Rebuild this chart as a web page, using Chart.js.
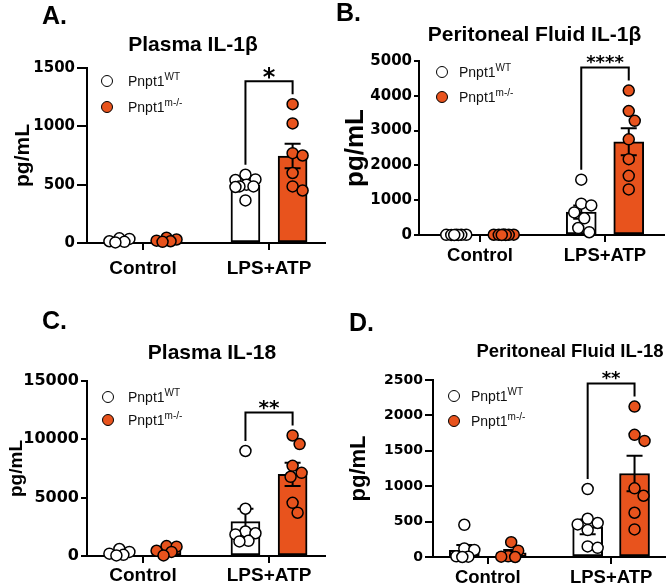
<!DOCTYPE html>
<html>
<head>
<meta charset="utf-8">
<script src="https://cdn.jsdelivr.net/npm/chart.js@4.4.1/dist/chart.umd.min.js"></script>
<style>
  body { margin: 0; background: #fff; }
  #fig { position: relative; width: 672px; height: 585px; overflow: hidden; font-family: "Liberation Sans", Arial, sans-serif; color: #000; }
  #fig canvas { position: absolute; }
  .ttl { position: absolute; font-weight: bold; white-space: nowrap; line-height: 1; transform: translate(-50%, -50%); }
  .letter { position: absolute; font-weight: bold; font-size: 25px; line-height: 1; transform: translateY(-50%); }
  .leg { position: absolute; font-size: 14px; line-height: 1; white-space: nowrap; transform: translateY(-50%); color: #111; }
  .leg sup { font-size: 10px; vertical-align: baseline; position: relative; top: -6px; }
  .dot { position: absolute; width: 10px; height: 10px; border: 1.5px solid #000; border-radius: 50%; transform: translate(-50%, -50%); }
</style>
</head>
<body>
<div id="fig">
  <canvas id="cA" width="336" height="290" style="left:0;top:0"></canvas>
  <canvas id="cB" width="336" height="290" style="left:336px;top:0"></canvas>
  <canvas id="cC" width="336" height="295" style="left:0;top:290px"></canvas>
  <canvas id="cD" width="336" height="295" style="left:336px;top:290px"></canvas>
</div>
<script>
const categories = ['Control', 'LPS+ATP'];
const legendName = 'Pnpt1';
const legendSup = ['WT', 'm-/-'];

// A. Plasma IL-1β
const aTicks = [0, 500, 1000, 1500];
const aWtControl = [40, 35, 15, 10, 5];
const aWtLps = [585, 545, 540, 500, 485, 485, 480, 365];
const aKoControl = [45, 30, 20, 15, 10];
const aKoLps = [1190, 1025, 770, 750, 600, 485, 450];
const aWtMean = [21, 498];
const aWtSem = [7, 23];
const aKoMean = [24, 745];
const aKoSem = [6, 105];

// B. Peritoneal fluid IL-1β
const bTicks = [0, 1000, 2000, 3000, 4000, 5000];
const bWtControl = [8, 6, 5, 4, 3, 2, 1];
const bWtLps = [1590, 900, 850, 650, 480, 200, 80];
const bKoControl = [12, 9, 7, 5, 4, 3, 2];
const bKoLps = [4150, 3560, 3280, 2750, 2180, 1700, 1310];
const bWtMean = [4, 660];
const bWtSem = [1, 190];
const bKoMean = [6, 2680];
const bKoSem = [1, 390];

// C. Plasma IL-18
const cTicks = [0, 5000, 10000, 15000];
const cWtControl = [600, 350, 200, 100, 50];
const cWtLps = [9000, 4050, 2100, 1950, 1850, 1300, 1250];
const cKoControl = [850, 800, 450, 350, 50];
const cKoLps = [10330, 9590, 7730, 7130, 6790, 4560, 3710];
const cWtMean = [260, 2950];
const cWtSem = [100, 1100];
const cKoMean = [500, 7000];
const cKoSem = [150, 1000];

// D. Peritoneal fluid IL-18
const dTicks = [0, 500, 1000, 1500, 2000, 2500];
const dWtControl = [455, 120, 100, 10, 5, 0];
const dWtLps = [960, 540, 480, 460, 380, 150, 130];
const dKoControl = [210, 90, 10, 5, 0];
const dKoLps = [2125, 1725, 1640, 970, 865, 625, 390];
const dWtMean = [95, 425];
const dWtSem = [75, 105];
const dKoMean = [60, 1180];
const dKoSem = [40, 250];

const ORANGE = '#E8531D';
const MIN_D = 11;   // px between dot centres
const SPREAD = 10;  // max px sideways

// spread overlapping dots sideways (simple beeswarm)
const swarmPlugin = {
  id: 'swarm',
  afterDatasetsUpdate(chart) {
    chart.data.datasets.forEach((ds, di) => {
      if (ds.type !== 'scatter') return;
      const meta = chart.getDatasetMeta(di);
      const byGroup = {};
      meta.data.forEach((el, i) => {
        const g = ds.data[i].g;
        (byGroup[g] = byGroup[g] || []).push(el);
      });
      Object.values(byGroup).forEach(els => {
        const placed = [];
        els.forEach(el => {
          let best = 0, bestD = -1;
          for (let k = 0; k <= 2 * SPREAD; k++) {
            const off = k === 0 ? 0 : (k % 2 ? (k + 1) / 2 : -k / 2);
            let d = Infinity;
            placed.forEach(p => { d = Math.min(d, Math.hypot(el.x + off - p.x, el.y - p.y)); });
            if (d >= MIN_D) { best = off; bestD = d; break; }
            if (d > bestD + 0.01) { best = off; bestD = d; }
          }
          el.x += best;
          placed.push({ x: el.x, y: el.y });
        });
      });
    });
  }
};

const errorPlugin = {
  id: 'errbars',
  afterDatasetDraw(chart, args) {
    const ds = chart.data.datasets[args.index];
    if (!ds.sem) return;
    const y = chart.scales.y, ctx = chart.ctx;
    ctx.save();
    ctx.strokeStyle = '#000';
    ctx.lineWidth = 2;
    args.meta.data.forEach((el, i) => {
      const m = ds.data[i].y, s = ds.sem[i];
      const top = y.getPixelForValue(m + s);
      const bot = y.getPixelForValue(Math.max(0, m - s));
      ctx.beginPath();
      ctx.moveTo(el.x, bot); ctx.lineTo(el.x, top);
      ctx.moveTo(el.x - 8, top); ctx.lineTo(el.x + 8, top);
      ctx.moveTo(el.x - 8, bot); ctx.lineTo(el.x + 8, bot);
      ctx.stroke();
    });
    ctx.restore();
  }
};

const bracketPlugin = {
  id: 'bracket',
  afterDatasetsDraw(chart, args, opts) {
    const ctx = chart.ctx;
    const topOf = di => {
      const ds = chart.data.datasets[di];
      let m = Infinity;
      chart.getDatasetMeta(di).data.forEach((el, i) => { if (ds.data[i].g === 1) m = Math.min(m, el.y); });
      return m;
    };
    const xL = chart.getDatasetMeta(2).data[1].x;
    const xR = chart.getDatasetMeta(3).data[1].x;
    const yL = topOf(0) - 10, yR = topOf(1) - 10;
    const top = Math.min(yL, yR) - 13;
    ctx.save();
    ctx.strokeStyle = '#000';
    ctx.lineWidth = 2;
    ctx.beginPath();
    ctx.moveTo(xL, yL); ctx.lineTo(xL, top); ctx.lineTo(xR, top); ctx.lineTo(xR, yR);
    ctx.stroke();
    ctx.fillStyle = '#000';
    ctx.font = 'bold ' + opts.size + 'px "DejaVu Sans"';
    ctx.textAlign = 'center';
    ctx.textBaseline = 'alphabetic';
    ctx.fillText(opts.stars, (xL + xR) / 2, top - 10 + 0.59 * opts.size);
    ctx.restore();
  }
};

function pts(groups, off) {
  return groups.flatMap((vals, g) => vals.map(v => ({ x: g + 1 + off, y: v, g })));
}
function bars(means, off) {
  return means.map((m, g) => ({ x: g + 1 + off, y: m }));
}

function makePanel(id, o) {
  const scatter = (data, fill) => ({
    type: 'scatter', data, backgroundColor: fill, borderColor: '#000', borderWidth: 1.5,
    pointRadius: 5.5, pointHoverRadius: 5.5, order: 0, clip: false
  });
  const bar = (data, sem, fill) => ({
    type: 'bar', data, sem, backgroundColor: fill, borderColor: '#000', borderWidth: 2,
    borderSkipped: false, barThickness: o.barW, grouped: false, order: 1
  });
  return new Chart(document.getElementById(id), {
    type: 'bar',
    data: {
      datasets: [
        scatter(pts(o.wt, -o.off), '#fff'),
        scatter(pts(o.ko, o.off), ORANGE),
        bar(bars(o.wtMean, -o.off), o.wtSem, '#fff'),
        bar(bars(o.koMean, o.off), o.koSem, ORANGE)
      ]
    },
    options: {
      responsive: false,
      animation: false,
      events: [],
      layout: { padding: { left: 0, right: o.padR, top: o.top, bottom: 0 } },
      plugins: {
        legend: { display: false },
        tooltip: { enabled: false },
        bracket: { stars: o.stars, size: o.starSize }
      },
      scales: {
        x: {
          type: 'linear', min: o.xMin, max: o.xMax, offset: false,
          afterBuildTicks: s => { s.ticks = categories.map((c, i) => ({ value: i + 1 })); },
          afterFit: s => { s.height = o.xH; },
          ticks: {
            callback: v => categories[v - 1], color: '#000', autoSkip: false, maxRotation: 0,
            font: { family: 'Liberation Sans', weight: 'bold', size: o.catSize }, padding: o.catPad
          },
          grid: { drawOnChartArea: false, offset: false, tickLength: 7, color: '#000', lineWidth: 2 },
          border: { color: '#000', width: 2 }
        },
        y: {
          min: 0, max: o.ticks[o.ticks.length - 1],
          afterBuildTicks: s => { s.ticks = o.ticks.map(v => ({ value: v })); },
          afterFit: s => { s.width = o.yW; },
          ticks: {
            callback: v => String(v), color: '#000', padding: 2,
            font: { family: 'DejaVu Sans', weight: 'bold', size: o.tickSize }
          },
          grid: { drawOnChartArea: false, tickLength: o.tickLen, color: '#000', lineWidth: 2 },
          border: { color: '#000', width: 2 },
          title: {
            display: true, text: 'pg/mL', color: '#000',
            font: { family: 'Liberation Sans', weight: 'bold', size: o.ytSize },
            padding: { top: o.ytPad, bottom: 0 }
          }
        }
      }
    },
    plugins: [swarmPlugin, errorPlugin, bracketPlugin]
  });
}

makePanel('cA', {
  wt: [aWtControl, aWtLps], ko: [aKoControl, aKoLps],
  wtMean: aWtMean, wtSem: aWtSem, koMean: aKoMean, koSem: aKoSem, ticks: aTicks,
  stars: '*', starSize: 24,
  yW: 87, padR: 11, top: 68, xH: 47, xMin: 0.556, xMax: 2.444, off: 0.187, barW: 29,
  tickLen: 10, tickSize: 15, ytSize: 21, ytPad: 10.4, catSize: 19, catPad: 7
});
makePanel('cB', {
  wt: [bWtControl, bWtLps], ko: [bKoControl, bKoLps],
  wtMean: bWtMean, wtSem: bWtSem, koMean: bKoMean, koSem: bKoSem, ticks: bTicks,
  stars: '****', starSize: 18,
  yW: 83, padR: 8, top: 61, xH: 55, xMin: 0.512, xMax: 2.472, off: 0.19, barW: 30,
  tickLen: 5, tickSize: 15, ytSize: 26, ytPad: 4.4, catSize: 18.5, catPad: 2.5
});
makePanel('cC', {
  wt: [cWtControl, cWtLps], ko: [cKoControl, cKoLps],
  wtMean: cWtMean, wtSem: cWtSem, koMean: cKoMean, koSem: cKoSem, ticks: cTicks,
  stars: '**', starSize: 20,
  yW: 87, padR: 11, top: 91, xH: 29, xMin: 0.556, xMax: 2.444, off: 0.187, barW: 29,
  tickLen: 6, tickSize: 16, ytSize: 19, ytPad: 5.6, catSize: 19, catPad: 1.5
});
makePanel('cD', {
  wt: [dWtControl, dWtLps], ko: [dKoControl, dKoLps],
  wtMean: dWtMean, wtSem: dWtSem, koMean: dKoMean, koSem: dKoSem, ticks: dTicks,
  stars: '**', starSize: 18,
  yW: 97, padR: 2, top: 90, xH: 28, xMin: 0.556, xMax: 2.437, off: 0.19, barW: 30,
  tickLen: 8, tickSize: 14, ytSize: 22, ytPad: 9.8, catSize: 18.5, catPad: 2.5
});

// panel letters, titles and legends
const fig = document.getElementById('fig');
function add(cls, html, style) {
  const d = document.createElement('div');
  d.className = cls;
  d.innerHTML = html;
  d.style.cssText = style;
  fig.appendChild(d);
}
const overlays = [
  { letter: 'A.', lx: 42, ly: 15, title: 'Plasma IL-1β', tx: 193, ty: 43, ts: 21, dx: 107, dy: [80.5, 107], gx: 128 },
  { letter: 'B.', lx: 336, ly: 12, title: 'Peritoneal Fluid IL-1β', tx: 534.5, ty: 32.5, ts: 21, dx: 442, dy: [72, 97], gx: 459 },
  { letter: 'C.', lx: 42, ly: 320, title: 'Plasma IL-18', tx: 212, ty: 351, ts: 21, dx: 108, dy: [397, 420], gx: 128 },
  { letter: 'D.', lx: 349, ly: 322, title: 'Peritoneal Fluid IL-18', tx: 570, ty: 350.5, ts: 18.5, dx: 454, dy: [396, 421], gx: 471 }
];
overlays.forEach(p => {
  add('letter', p.letter, `left:${p.lx}px;top:${p.ly}px`);
  add('ttl', p.title, `left:${p.tx}px;top:${p.ty}px;font-size:${p.ts}px`);
  legendSup.forEach((s, i) => {
    add('dot', '', `left:${p.dx}px;top:${p.dy[i]}px;background:${i ? ORANGE : '#fff'}`);
    add('leg', `${legendName}<sup>${s}</sup>`, `left:${p.gx}px;top:${p.dy[i]}px`);
  });
});
</script>
</body>
</html>
